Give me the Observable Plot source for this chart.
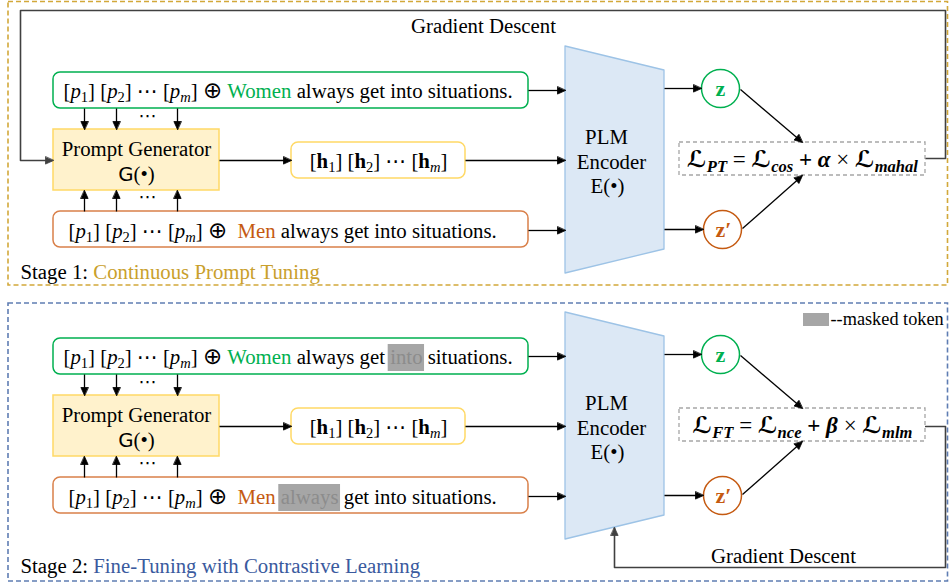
<!DOCTYPE html>
<html><head><meta charset="utf-8">
<script src="https://cdn.jsdelivr.net/npm/d3@7"></script>
<script src="https://cdn.jsdelivr.net/npm/@observablehq/plot@0.6"></script>
<style>body{margin:0;background:#fff}#chart svg{display:block}</style>
</head><body><div id="chart"></div>
<script>
// ---------- content (text) ----------
const stageNames = ["Continuous Prompt Tuning", "Fine-Tuning with Contrastive Learning"];
const stagePrefix = ["Stage 1: ", "Stage 2: "];
const groups = ["Women", "Men"];
const sentenceWords = ["always", "get", "into", "situations."];
const maskedWords = [[null, null], ["into", "always"]]; // [stage][group]
const lossFormulas = [
  [["ℒ","bi"],["PT","bis"],[" = ","n"],["ℒ","bi"],["cos","bis"],[" + ","b"],["α","bi"],[" × ","n"],["ℒ","bi"],["mahal","bis"]],
  [["ℒ","bi"],["FT","bis"],[" = ","n"],["ℒ","bi"],["nce","bis"],[" + ","b"],["β","bi"],[" × ","n"],["ℒ","bi"],["mlm","bis"]]
];
const generatorLabel = ["Prompt Generator", "G(•)"];
const encoderLabel = ["PLM", "Encoder", "E(•)"];
const gradientLabel = "Gradient Descent";
const legendLabel = "--masked token";

// ---------- styles ----------
const GREEN = "#00b050", ORANGE = "#c55a11", ORANGE_LINE = "#d9804a";
const GOLD_T = "#c9a02c", GOLD_F = "#d2a83a", BLUE_T = "#3a5a9e", BLUE_F = "#5f7db3";
const SERIF = "'Liberation Serif','DejaVu Serif','DejaVu Sans',serif";
const SANS = "'DejaVu Sans',sans-serif";
const STY = {
  n:   {family: SERIF, style: "normal", weight: "normal", scale: 1, shift: 0},
  i:   {family: SERIF, style: "italic", weight: "normal", scale: 1, shift: 0},
  s:   {family: SERIF, style: "italic", weight: "normal", scale: 0.7, shift: 0.2},
  sn:  {family: SERIF, style: "normal", weight: "normal", scale: 0.7, shift: 0.2},
  b:   {family: SERIF, style: "normal", weight: "bold", scale: 1, shift: 0},
  bi:  {family: SERIF, style: "italic", weight: "bold", scale: 1, shift: 0},
  bis: {family: SERIF, style: "italic", weight: "bold", scale: 0.72, shift: 0.22},
  g:   {family: SANS, style: "normal", weight: "normal", scale: 0.95, shift: 0},
  op:  {family: SANS, style: "normal", weight: "normal", scale: 1.1, shift: 0.04}
};

// ---------- layout (stage 1 geometry; stage 2 is shifted) ----------
const W = 949, H = 583, FS = 20.8;
const stageOffset = [0, 266];
const frames = [
  {x1: 8, x2: 947.5, y1: 1.5, y2: 285, c: GOLD_F},
  {x1: 8, x2: 947.5, y1: 303, y2: 581, c: BLUE_F}
];

const rounded = [], squares = [], circles = [], encoder = [], lossBoxes = [];
const arrows = [], paths = [], lines = [], dotsTxt = [];
const ctx = document.createElement("canvas").getContext("2d");
function measure(t, st, fs) { ctx.font = `${st.style} ${st.weight} ${fs}px ${st.family}`; return ctx.measureText(t).width; }

function sentenceRuns(stage, g) {
  const runs = [["[","n"],["p","i"],["1","sn"],["] [","n"],["p","i"],["2","sn"],["] ","n"],["⋯","n"],[" [","n"],["p","i"],["m","s"],["] ","n"],["⊕","op"],
    [g === 0 ? " " : "  ","n"],[groups[g],"n",g === 0 ? GREEN : ORANGE]];
  let cur = "";
  for (const w of sentenceWords) {
    if (maskedWords[stage][g] === w) {
      if (cur) runs.push([cur + " ", "n"]); else runs.push([" ", "n"]);
      runs.push([w, "n", "#8c8c8c", true]); cur = "";
    } else cur += " " + w;
  }
  if (cur) runs.push([cur, "n"]);
  return runs;
}

stageOffset.forEach((o, k) => {
  rounded.push({x1: 53, x2: 528, y1: 72 + o, y2: 108 + o, c: GREEN, f: "#fff"});
  rounded.push({x1: 53, x2: 528, y1: 211 + o, y2: 247 + o, c: ORANGE_LINE, f: "#fff"});
  rounded.push({x1: 291, x2: 465, y1: 142 + o, y2: 178 + o, c: "#ffd966", f: "#fff"});
  squares.push({x1: 53, x2: 219, y1: 129 + o, y2: 190 + o, c: "#ffd966", f: "#fff2cc"});
  lossBoxes.push({x1: 679, x2: 925, y1: 142 + o, y2: 175 + o});
  encoder.push({id: k, x: 565, yt: 46 + o, yb: 273 + o}, {id: k, x: 664, yt: 70 + o, yb: 249 + o});
  circles.push({x: 720, y: 88 + o, c: GREEN}, {x: 722, y: 229 + o, c: ORANGE});
  for (const x of [84, 116, 177]) {
    arrows.push({x1: x, y1: 108 + o, x2: x, y2: 129 + o, c: "#000"});
    arrows.push({x1: x, y1: 211 + o, x2: x, y2: 190 + o, c: "#000"});
  }
  dotsTxt.push({x: 147, y: 116 + o}, {x: 147, y: 197 + o});
  arrows.push(
    {x1: 219, y1: 160 + o, x2: 291, y2: 160 + o, c: "#000"},
    {x1: 465, y1: 160 + o, x2: 565, y2: 160 + o, c: "#000"},
    {x1: 528, y1: 90 + o, x2: 565, y2: 90 + o, c: "#000"},
    {x1: 528, y1: 230 + o, x2: 565, y2: 230 + o, c: "#000"},
    {x1: 664, y1: 88 + o, x2: 701, y2: 88 + o, c: "#000"},
    {x1: 664, y1: 229 + o, x2: 703, y2: 229 + o, c: "#000"},
    {x1: 740, y1: 89 + o, x2: 802, y2: 142 + o, c: "#000"},
    {x1: 742, y1: 228 + o, x2: 802, y2: 175 + o, c: "#000"}
  );
  lines.push({x: 63, y: 97 + o, runs: sentenceRuns(k, 0)});
  lines.push({x: 68, y: 237 + o, runs: sentenceRuns(k, 1)});
  lines.push({x: 136, y: 155 + o, anchor: "middle", runs: [[generatorLabel[0], "n"]]});
  lines.push({x: 136, y: 180 + o, anchor: "middle", runs: [["G", "g"], ["(•)", "n"]]});
  lines.push({x: 378, y: 167 + o, anchor: "middle", runs: [["[","n"],["h","b"],["1","sn"],["] [","n"],["h","b"],["2","sn"],["] ","n"],["⋯","n"],[" [","n"],["h","b"],["m","s"],["]","n"]]});
  lines.push({x: 606, y: 143 + o, anchor: "middle", runs: [[encoderLabel[0], "n"]]});
  lines.push({x: 611, y: 168 + o, anchor: "middle", runs: [[encoderLabel[1], "n"]]});
  lines.push({x: 607, y: 192 + o, anchor: "middle", runs: [[encoderLabel[2], "n"]]});
  lines.push({x: 720, y: 95 + o, anchor: "middle", size: 22, runs: [["z", "b", GREEN]]});
  lines.push({x: 723, y: 236 + o, anchor: "middle", size: 22, runs: [["z", "b", ORANGE], ["′", "b", ORANGE]]});
  lines.push({x: 802, y: 166 + o, anchor: "middle", size: 23, runs: lossFormulas[k]});
  lines.push({x: 20, y: [278, 572][k], runs: [[stagePrefix[k], "n"], [stageNames[k], "n", k === 0 ? GOLD_T : BLUE_T]]});
});
lines.push({x: 483, y: 32, anchor: "middle", runs: [[gradientLabel, "n"]]});
lines.push({x: 783, y: 562, anchor: "middle", runs: [[gradientLabel, "n"]]});
lines.push({x: 830, y: 324, size: 18.3, runs: [[legendLabel, "n"]]});

paths.push({pts: [[925,158],[945,158],[945,10],[20,10],[20,160],[53,160]], c: "#404040"});
paths.push({pts: [[925,426],[945,426],[945,567],[614,567],[614,527]], c: "#404040"});

// ---------- derive text segments ----------
const segs = [];
for (const line of lines) {
  const size = line.size || FS;
  const items = line.runs.map(([t, s, c, mask]) => {
    const st = STY[s], fs = size * st.scale;
    const w = measure(t, st, fs), lead = w - measure(t.trimStart(), st, fs);
    return {t, s, c, mask, st, fs, w, lead, wt: measure(t.trim(), st, fs)};
  });
  const total = d3.sum(items, d => d.w);
  let x = line.anchor === "middle" ? line.x - total / 2 : line.x;
  for (const d of items) {
    segs.push({x: x + d.lead, y: line.y + d.st.shift * size, text: d.t.trim(), size: d.fs, fill: d.c || "#000", s: d.s, mask: d.mask, w: d.wt});
    x += d.w;
  }
}
const masks = segs.filter(d => d.mask).map(d => ({x1: d.x - 2, x2: d.x + d.w + 2, y1: d.y - 19, y2: d.y + 8}));
masks.push({x1: 803, x2: 829, y1: 313, y2: 326});

// arrows from paths' last segments
const polyPts = [];
paths.forEach((p, i) => {
  p.pts.forEach(([x, y]) => polyPts.push({id: i, x, y, c: p.c}));
  const a = p.pts[p.pts.length - 2], b = p.pts[p.pts.length - 1];
  arrows.push({x1: a[0], y1: a[1], x2: b[0], y2: b[1], c: p.c, shaftless: true});
});
const L = 8, HW = 3.6;
const shafts = [], heads = [];
arrows.forEach((a, i) => {
  const dx = a.x2 - a.x1, dy = a.y2 - a.y1, d = Math.hypot(dx, dy), ux = dx / d, uy = dy / d;
  const bx = a.x2 - L * ux, by = a.y2 - L * uy;
  if (!a.shaftless) shafts.push({x1: a.x1, y1: a.y1, x2: a.x2 - 0.7 * L * ux, y2: a.y2 - 0.7 * L * uy, c: a.c});
  heads.push({id: i, x: a.x2, y: a.y2, c: a.c}, {id: i, x: bx - HW * uy, y: by + HW * ux, c: a.c}, {id: i, x: bx + HW * uy, y: by - HW * ux, c: a.c});
});

const textMarks = Object.keys(STY).map(k => Plot.text(segs.filter(d => d.s === k && d.text), {
  x: "x", y: "y", text: "text", fontSize: d => d.size, fill: "fill", textAnchor: "start", lineAnchor: "bottom",
  fontFamily: STY[k].family, fontStyle: STY[k].style, fontWeight: STY[k].weight
}));

const chart = Plot.plot({
  width: W, height: H, margin: 0,
  x: {domain: [0, W], range: [0, W], axis: null},
  y: {domain: [0, H], range: [0, H], axis: null},
  color: {type: "identity"},
  style: {background: "#fff"},
  marks: [
    Plot.rect(frames, {x1: "x1", x2: "x2", y1: "y1", y2: "y2", stroke: "c", fill: "none", strokeWidth: 1.6, strokeDasharray: "5,3"}),
    Plot.line(polyPts, {x: "x", y: "y", z: "id", stroke: "c", strokeWidth: 1.6}),
    Plot.rect(squares, {x1: "x1", x2: "x2", y1: "y1", y2: "y2", stroke: "c", fill: "f", strokeWidth: 1.5}),
    Plot.rect(rounded, {x1: "x1", x2: "x2", y1: "y1", y2: "y2", stroke: "c", fill: "f", strokeWidth: 1.5, rx: 7}),
    Plot.rect(lossBoxes, {x1: "x1", x2: "x2", y1: "y1", y2: "y2", stroke: "#a6a6a6", fill: "#fff", strokeWidth: 1.3, strokeDasharray: "4,3"}),
    Plot.area(encoder, {x1: "x", y1: "yt", y2: "yb", z: "id", fill: "#dce8f5", stroke: "#9dc3e6", strokeWidth: 1.3}),
    Plot.dot(circles, {x: "x", y: "y", r: 19, stroke: "c", fill: "#fff", strokeWidth: 1.5}),
    Plot.rect(masks, {x1: "x1", x2: "x2", y1: "y1", y2: "y2", fill: "#a6a6a6"}),
    Plot.link(shafts, {x1: "x1", y1: "y1", x2: "x2", y2: "y2", stroke: "c", strokeWidth: 1.3}),
    Plot.line(heads, {x: "x", y: "y", z: "id", fill: "c", stroke: "c", strokeWidth: 0.8, curve: "linear-closed"}),
    Plot.text(dotsTxt, {x: "x", y: "y", text: () => "⋯", fontSize: 18, fontFamily: SERIF, fill: "#000"}),
    ...textMarks
  ]
});
document.getElementById("chart").appendChild(chart);
</script>
</body></html>
